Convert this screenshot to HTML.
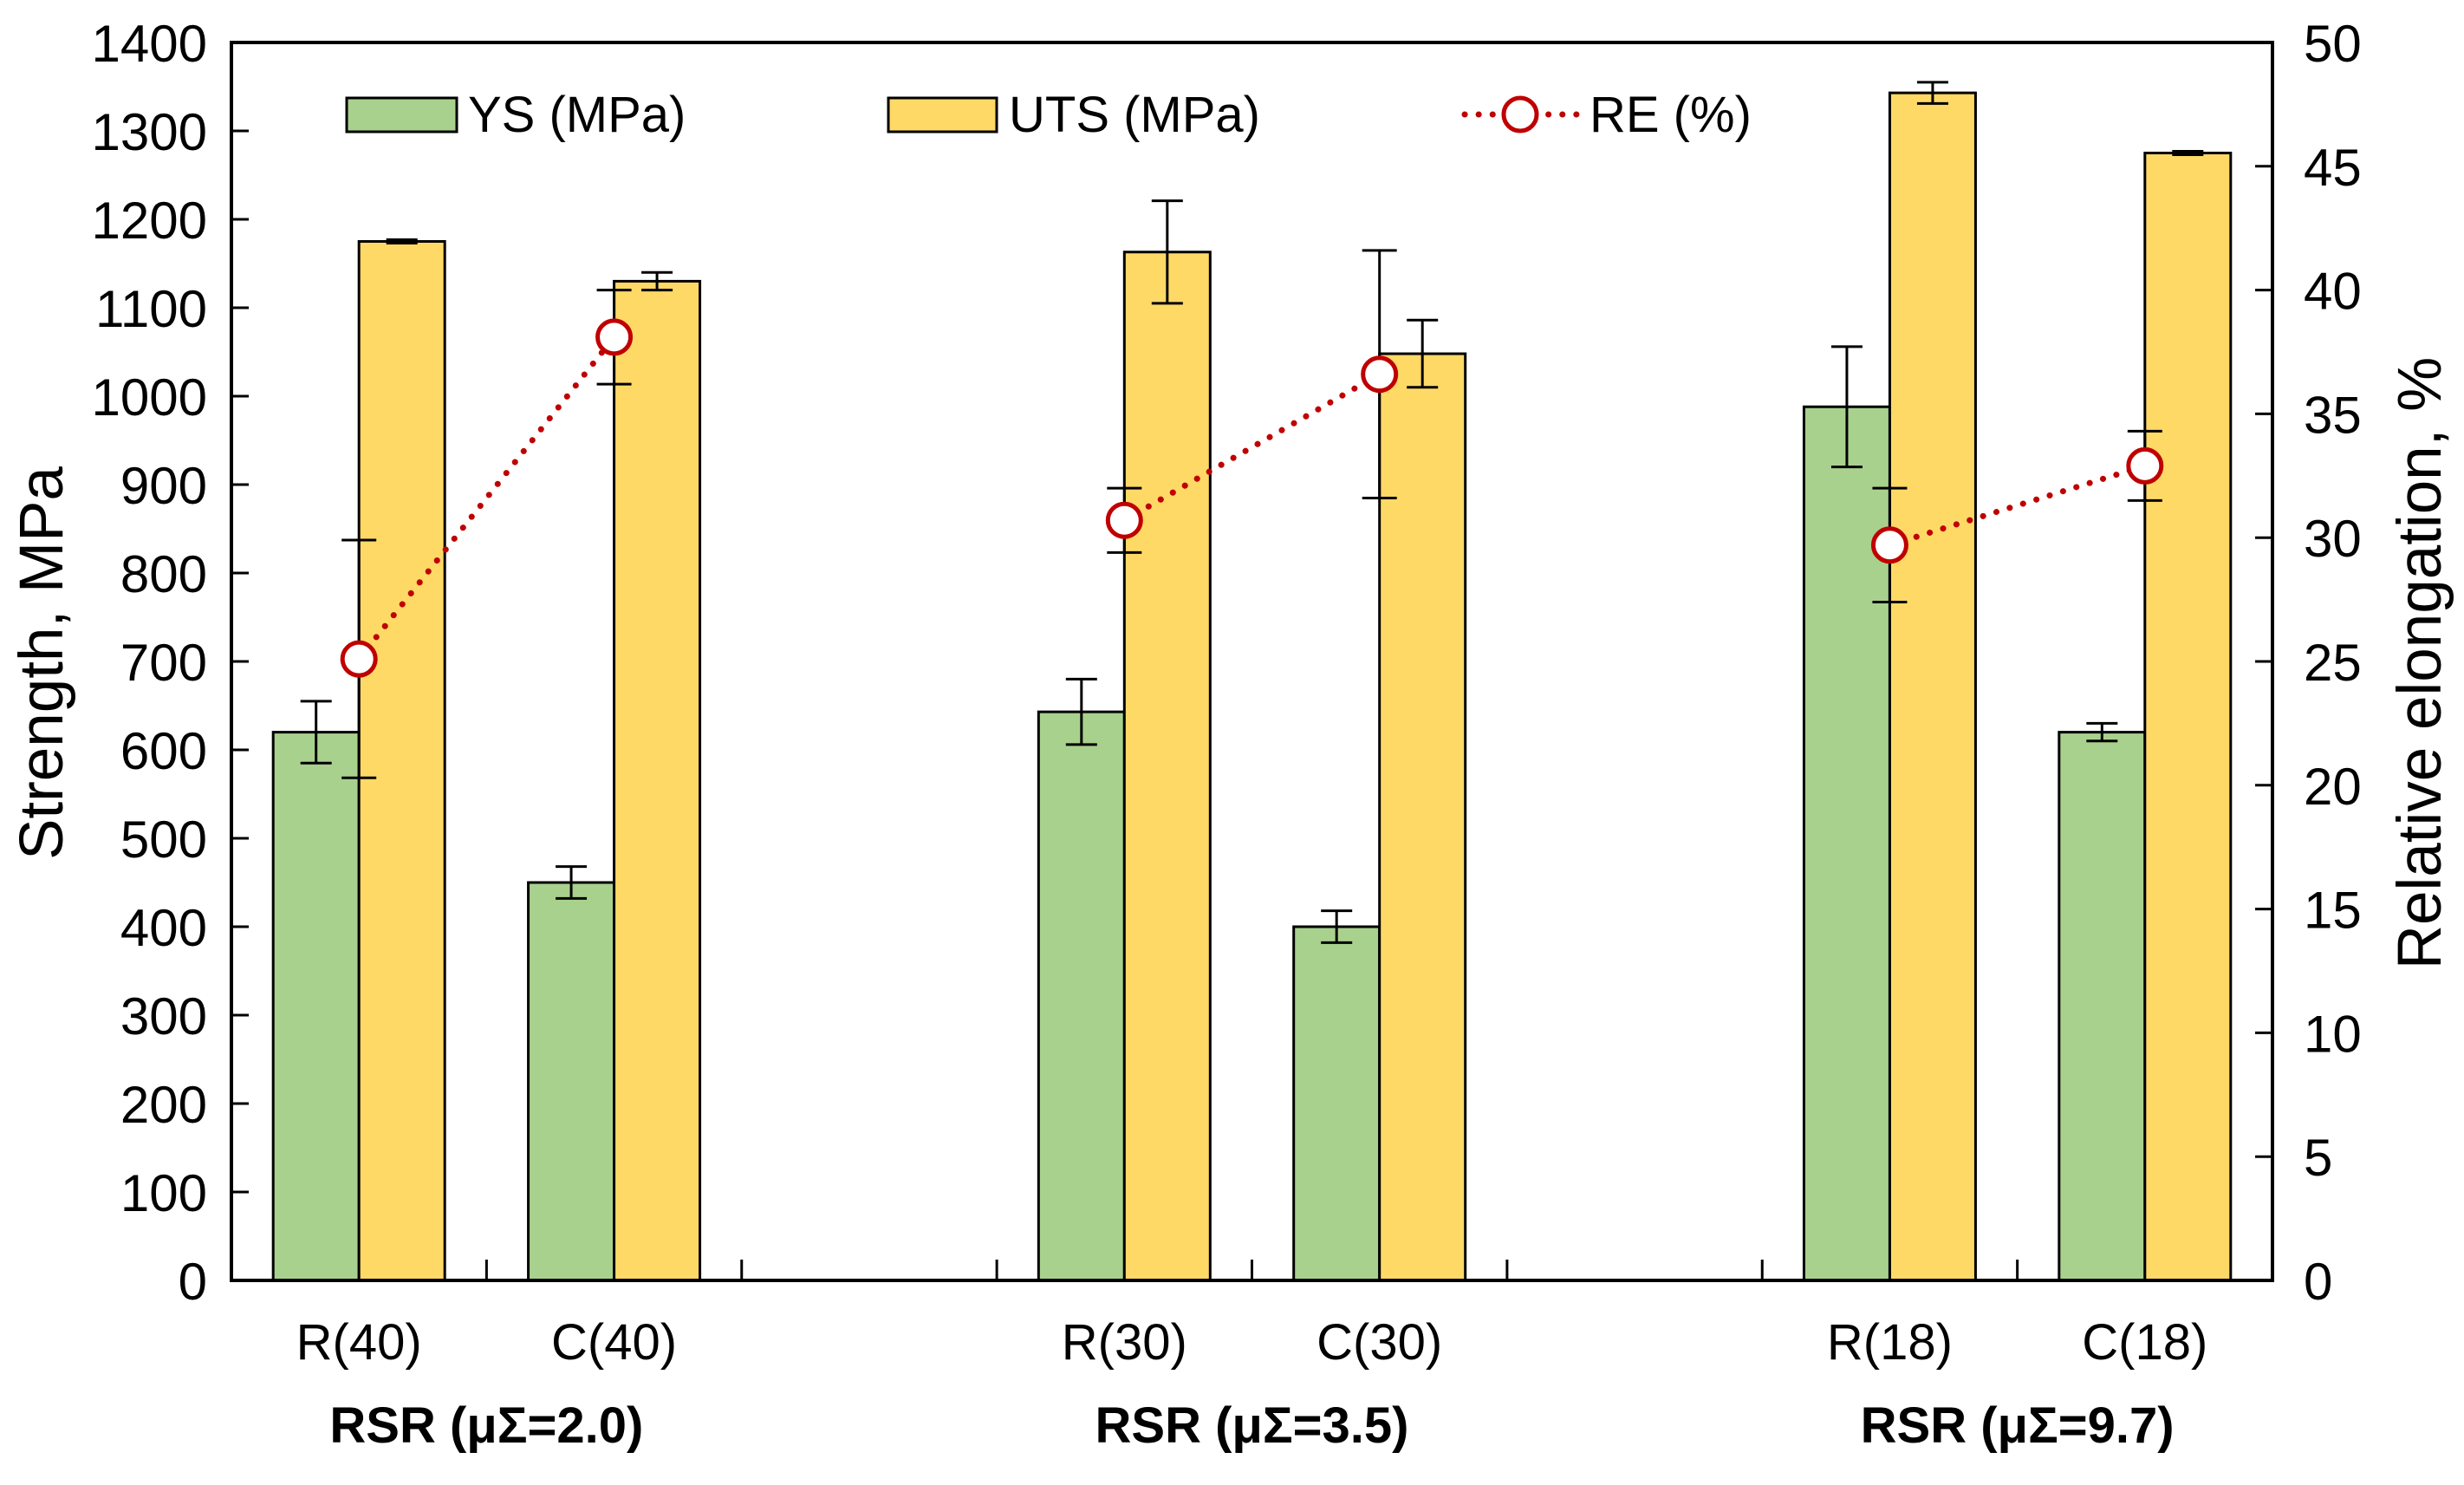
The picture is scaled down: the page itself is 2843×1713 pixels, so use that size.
<!DOCTYPE html>
<html><head><meta charset="utf-8"><style>
html,body{margin:0;padding:0;background:#fff;}
svg{display:block;}
text{font-family:"Liberation Sans",sans-serif;fill:#000;}
</style></head><body>
<svg id="chart" width="2843" height="1713" viewBox="0 0 2843 1713" xmlns="http://www.w3.org/2000/svg">
<g id="bars"></g>
<g id="axes"></g>
<g id="re"></g>
<g id="legend">
  <rect x="400" y="113" width="127" height="39" fill="#A9D18E" stroke="#000" stroke-width="3"/>
  <text x="540" y="152" font-size="58">YS (MPa)</text>
  <rect x="1025" y="113" width="125" height="39" fill="#FFD966" stroke="#000" stroke-width="3"/>
  <text x="1164" y="152" font-size="58">UTS (MPa)</text>
  <line x1="1690" y1="132" x2="1820" y2="132" stroke="#C00000" stroke-width="7" stroke-dasharray="0.1 16" stroke-linecap="round"/>
  <circle cx="1754" cy="132" r="19" fill="#fff" stroke="#C00000" stroke-width="5"/>
  <text x="1834" y="152" font-size="58">RE (%)</text>
</g>
</svg>
<script>
const slotIndex = [0,1,3,4,6,7];
const catLabels = ["R(40)","C(40)","R(30)","C(30)","R(18)","C(18)"];
const ysValues = [620, 450, 643, 400, 988, 620];
const ysErrors = [35, 18, 37, 18, 68, 10];
const utsValues = [1175, 1130, 1163, 1048, 1343, 1275];
const utsErrors = [2, 10, 58, 38, 12, 2];
const reValues = [25.1, 38.1, 30.7, 36.6, 29.7, 32.9];
const reErrors = [4.8, 1.9, 1.3, 5.0, 2.3, 1.4];
const leftTicks = [0,100,200,300,400,500,600,700,800,900,1000,1100,1200,1300,1400];
const rightTicks = [0,5,10,15,20,25,30,35,40,45,50];
const groupLabels = ["RSR (μΣ=2.0)","RSR (μΣ=3.5)","RSR (μΣ=9.7)"];
const groupPairs = [[0,1],[2,3],[4,5]];

const NS="http://www.w3.org/2000/svg";
const L=267, R=2622, T=49, B=1477, nSlots=8;
const slotW=(R-L)/nSlots, barW=99;
const yL=v=>B-(v/1400)*(B-T);
const yR=v=>B-(v/50)*(B-T);
const xSlot=i=>L+slotW*(i+0.5);
function mk(tag,attrs,parent){const e=document.createElementNS(NS,tag);for(const k in attrs)e.setAttribute(k,attrs[k]);parent.appendChild(e);return e;}
const gb=document.getElementById('bars'), ga=document.getElementById('axes'), gr=document.getElementById('re');

function drawErr(x,yTop,yBot,cap,parent,name){
  const g=mk('g',{stroke:'#000','stroke-width':3},parent);
  
  
  mk('line',{x1:x,x2:x,y1:yTop,y2:yBot},g);
  mk('line',{x1:x-cap,x2:x+cap,y1:yTop,y2:yTop},g);
  mk('line',{x1:x-cap,x2:x+cap,y1:yBot,y2:yBot},g);
}

ysValues.forEach((v,i)=>{
  const c=xSlot(slotIndex[i]);
  const r=mk('rect',{x:c-barW,y:yL(v),width:barW,height:B-yL(v),fill:'#A9D18E',stroke:'#000','stroke-width':3},gb);
  
  
  drawErr(c-barW/2,yL(v+ysErrors[i]),yL(v-ysErrors[i]),18,gb,'ys-error-bar');
});
utsValues.forEach((v,i)=>{
  const c=xSlot(slotIndex[i]);
  const r=mk('rect',{x:c,y:yL(v),width:barW,height:B-yL(v),fill:'#FFD966',stroke:'#000','stroke-width':3},gb);
  
  
  drawErr(c+barW/2,yL(v+utsErrors[i]),yL(v-utsErrors[i]),18,gb,'uts-error-bar');
});

const frame=mk('rect',{x:L,y:T,width:R-L,height:B-T,fill:'none',stroke:'#000','stroke-width':4},ga);


leftTicks.forEach(t=>{
  const y=yL(t);
  mk('line',{x1:L,x2:L+20,y1:y,y2:y,stroke:'#000','stroke-width':3},ga);
  const tx=mk('text',{x:239,y:y+22,'font-size':60,'text-anchor':'end'},ga);
  tx.textContent=t;
  
  
});
rightTicks.forEach(t=>{
  const y=yR(t);
  mk('line',{x1:R-20,x2:R,y1:y,y2:y,stroke:'#000','stroke-width':3},ga);
  const tx=mk('text',{x:2658,y:y+22,'font-size':60},ga);
  tx.textContent=t;
  
  
});
for(let i=1;i<nSlots;i++){
  const x=L+slotW*i;
  mk('line',{x1:x,x2:x,y1:B,y2:B-24,stroke:'#000','stroke-width':3},ga);
}
catLabels.forEach((c,i)=>{
  const tx=mk('text',{x:xSlot(slotIndex[i]),y:1568,'font-size':58,'text-anchor':'middle'},ga);
  tx.textContent=c;
  
  
});
groupPairs.forEach((p,i)=>{
  const x=(xSlot(slotIndex[p[0]])+xSlot(slotIndex[p[1]]))/2;
  const tx=mk('text',{x:x,y:1664,'font-size':58,'font-weight':'bold','text-anchor':'middle'},ga);
  tx.textContent=groupLabels[i];
  
  
});
const yt=mk('text',{x:0,y:0,'font-size':71,'text-anchor':'middle',transform:'translate(72,765) rotate(-90)'},ga);
yt.textContent='Strength, MPa';


const yt2=mk('text',{x:0,y:0,'font-size':71,'text-anchor':'middle',transform:'translate(2816,765) rotate(-90)'},ga);
yt2.textContent='Relative elongation, %';



groupPairs.forEach(p=>{
  const ln=mk('line',{x1:xSlot(slotIndex[p[0]]),y1:yR(reValues[p[0]]),x2:xSlot(slotIndex[p[1]]),y2:yR(reValues[p[1]]),stroke:'#C00000','stroke-width':7,'stroke-dasharray':'0.1 16','stroke-linecap':'round'},gr);
  
  
});
reValues.forEach((v,i)=>{
  const x=xSlot(slotIndex[i]);
  drawErr(x,yR(v+reErrors[i]),yR(v-reErrors[i]),20,gr,'re-error-bar');
  const c=mk('circle',{cx:x,cy:yR(v),r:19,fill:'#fff',stroke:'#C00000','stroke-width':5},gr);
  
  
});
</script>
</body></html>
